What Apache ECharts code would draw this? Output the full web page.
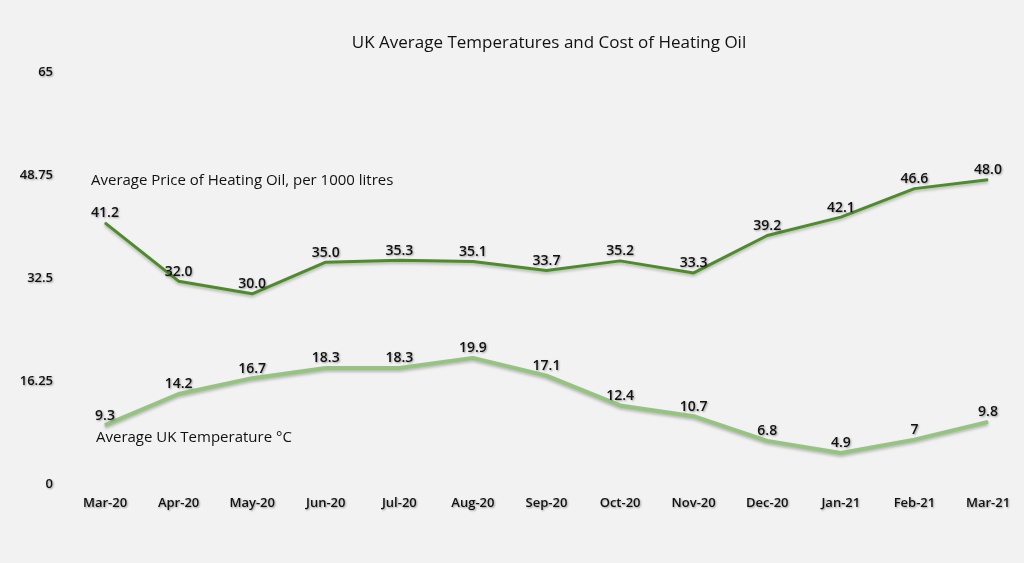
<!DOCTYPE html>
<html>
<head>
<meta charset="utf-8">
<script src="https://cdn.jsdelivr.net/npm/echarts@6/dist/echarts.min.js"></script>
<style>
html,body{margin:0;padding:0;background:#f2f2f2;}
#c{width:1024px;height:563px;}
</style>
</head>
<body>
<div id="c"></div>
<script>
const categories = ['Mar-20','Apr-20','May-20','Jun-20','Jul-20','Aug-20','Sep-20','Oct-20','Nov-20','Dec-20','Jan-21','Feb-21','Mar-21'];
const oilPrice = [41.2,32.0,30.0,35.0,35.3,35.1,33.7,35.2,33.3,39.2,42.1,46.6,48.0];
const ukTemp = [9.3,14.2,16.7,18.3,18.3,19.9,17.1,12.4,10.7,6.8,4.9,7,9.8];
const yTicks = [0,16.25,32.5,48.75,65];

const FONT = 'Open Sans';
const shadowText = {textShadowColor:'rgba(0,0,0,0.35)',textShadowBlur:2,textShadowOffsetX:1,textShadowOffsetY:1};

const chart = echarts.init(document.getElementById('c'));
chart.setOption({
  backgroundColor:'#f2f2f2',
  animation:false,
  title:{
    text:'UK Average Temperatures and Cost of Heating Oil',
    left:544, top:30, textAlign:'center',
    textStyle:{fontFamily:FONT,fontSize:17,fontWeight:'normal',color:'#111'}
  },
  grid:{left:105,right:36,top:72,bottom:79},
  xAxis:{
    type:'category',data:categories,boundaryGap:false,
    axisLine:{show:false},axisTick:{show:false},
    axisLabel:Object.assign({margin:13,fontFamily:FONT,fontSize:13,color:'#111',fontWeight:600},shadowText)
  },
  yAxis:{
    type:'value',min:yTicks[0],max:yTicks[yTicks.length-1],interval:16.25,
    splitLine:{show:false},axisLine:{show:false},axisTick:{show:false},
    axisLabel:Object.assign({margin:52,fontFamily:FONT,fontSize:13,color:'#111',fontWeight:600,
      formatter:v=>String(v)},shadowText)
  },
  graphic:[
    {type:'text',left:91,top:173,style:{text:'Average Price of Heating Oil, per 1000 litres',font:'15px "Open Sans"',fill:'#111'}},
    {type:'text',left:96,top:430,style:{text:'Average UK Temperature °C',font:'15px "Open Sans"',fill:'#111'}}
  ],
  series:[
    {
      name:'Average Price of Heating Oil, per 1000 litres',type:'line',data:oilPrice,
      symbol:'circle',symbolSize:1,showSymbol:true,
      itemStyle:{color:'#4d8b2b'},
      lineStyle:{color:'#4d8b2b',width:3,shadowColor:'rgba(0,0,0,0.25)',shadowBlur:3,shadowOffsetY:2},
      label:Object.assign({show:true,position:'top',distance:2,fontFamily:FONT,fontSize:14,color:'#111',fontWeight:600,
        formatter:p=>p.value.toFixed(1)},shadowText)
    },
    {
      name:'Average UK Temperature °C',type:'line',data:ukTemp,
      symbol:'circle',symbolSize:1,showSymbol:true,
      itemStyle:{color:'#95c480'},
      lineStyle:{color:'#95c480',width:4,shadowColor:'rgba(0,0,0,0.25)',shadowBlur:3,shadowOffsetY:2},
      label:Object.assign({show:true,position:'top',distance:2,fontFamily:FONT,fontSize:14,color:'#111',fontWeight:600,
        formatter:p=>String(p.value)},shadowText)
    }
  ]
});
</script>
</body>
</html>
